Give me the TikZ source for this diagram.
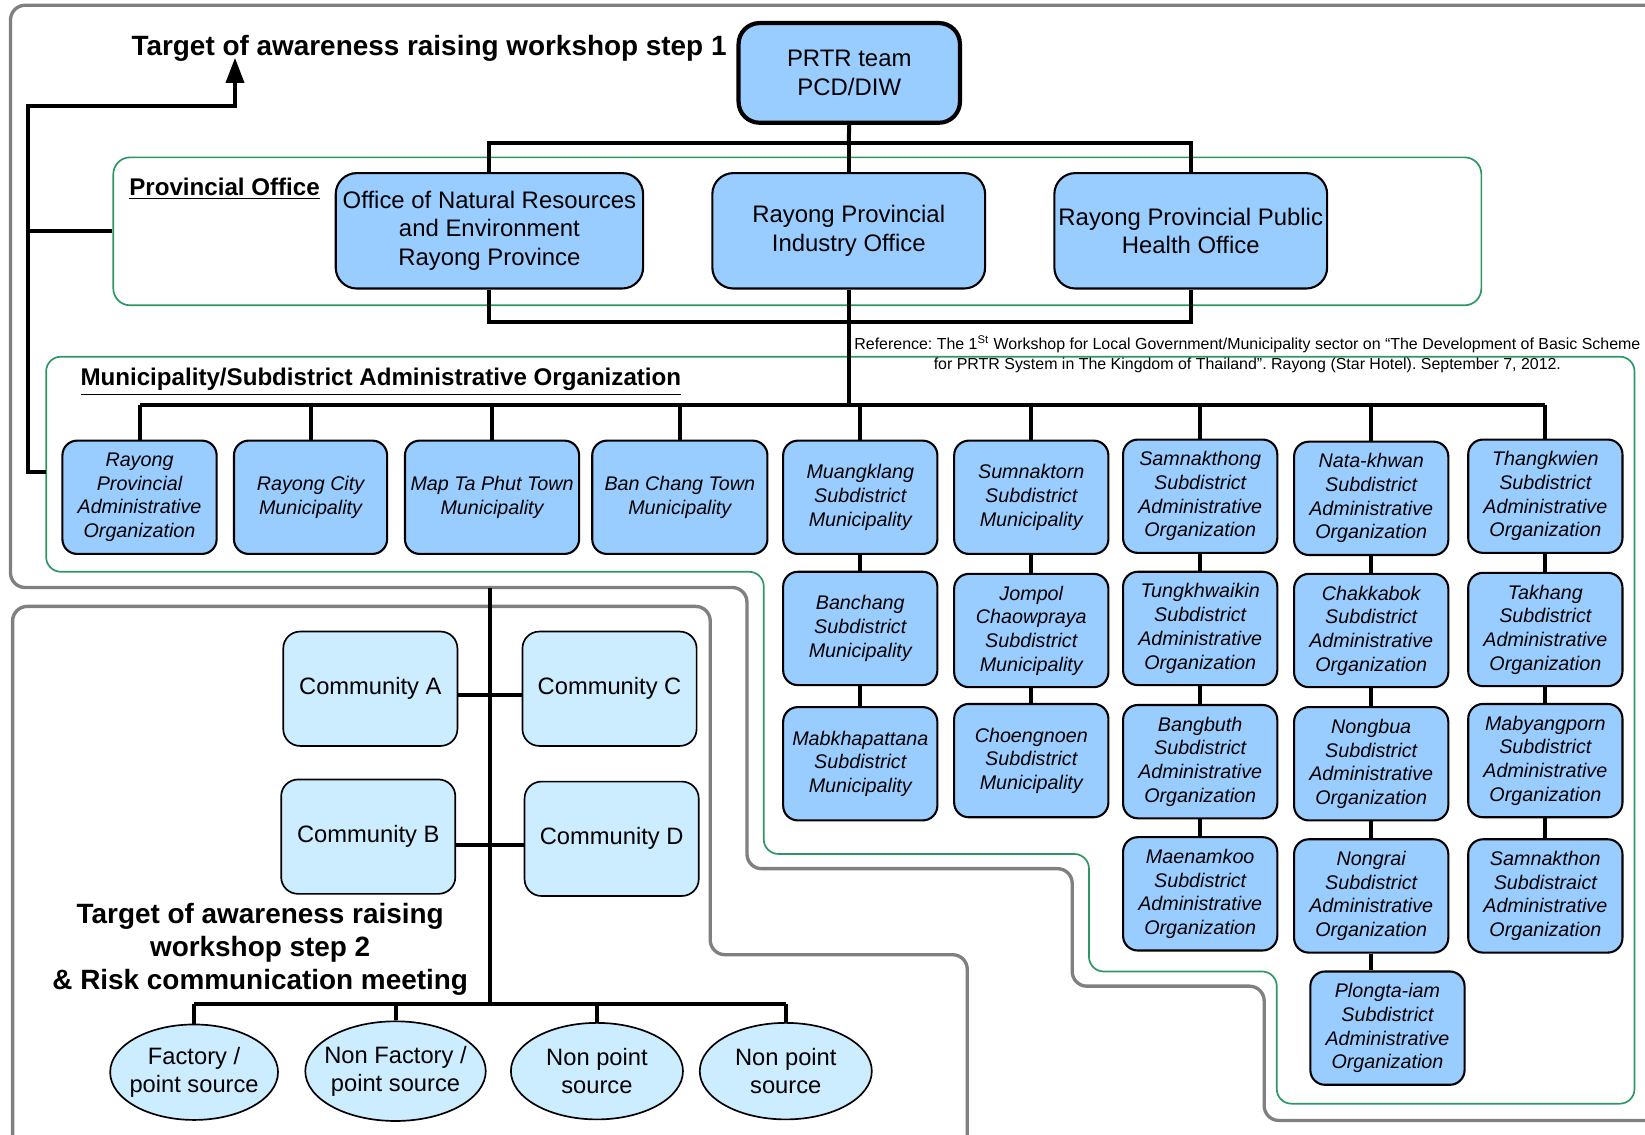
\documentclass[tikz,border=0pt]{standalone}
\usepackage{fontspec}
\setmainfont{Liberation Sans}
\usetikzlibrary{shapes.geometric,arrows.meta}
\definecolor{boxblue}{RGB}{153,204,255}
\definecolor{paleblue}{RGB}{204,236,255}
\definecolor{framegreen}{RGB}{46,150,100}
\definecolor{framegray}{RGB}{128,128,128}
\frenchspacing

\begin{document}
\begin{tikzpicture}[x=0.5pt,y=-0.5pt,
  muni/.style={draw, line width=1pt, fill=boxblue, rounded corners=7pt, minimum width=73.5pt, minimum height=54pt, inner sep=1pt, align=center, font=\fontsize{9.4}{11.3}\selectfont\itshape},
  prov/.style={draw, line width=1pt, fill=boxblue, rounded corners=10pt, minimum width=130pt, minimum height=55pt, inner sep=1pt, align=center, font=\fontsize{11.4}{13.5}\selectfont},
  comm/.style={draw, line width=0.8pt, fill=paleblue, rounded corners=8pt, minimum width=83pt, minimum height=54.5pt, font=\fontsize{11.3}{13.5}\selectfont},
  source/.style={ellipse, draw, line width=0.8pt, fill=paleblue, inner xsep=-6pt, inner ysep=0pt, align=center, font=\fontsize{11.3}{13.5}\selectfont},
  conn/.style={line width=1.9pt},
  heading/.style={font=\fontsize{13.3}{15.75}\selectfont\bfseries, align=center},
  subhead/.style={font=\fontsize{11.5}{13.5}\selectfont\bfseries}]
    \useasboundingbox (0,0) rectangle (1568,1081);
    \clip (0,0) rectangle (1568,1081);

    % Grey target frames
    \draw[framegray, line width=1.6pt, rounded corners=7pt] (1600,5) -- (10,5) -- (10,560) -- (712,560) -- (712,828) -- (1022,828) -- (1022,940) -- (1205,940) -- (1205,1068) -- (1600,1068);
    \draw[framegray, line width=1.6pt, rounded corners=7pt] (12,1110) -- (12,578) -- (677,578) -- (677,910) -- (922,910) -- (922,1110);

    % Green group frames
    \node[draw=framegreen, line width=0.8pt, rounded corners=8pt, minimum width=652pt, minimum height=70.5pt] (provframe) at (760,220.5) {};
    \draw[framegreen, line width=0.8pt, rounded corners=7pt] (44,340) -- (1558,340) -- (1558,1052) -- (1217,1052) -- (1217,926) -- (1038,926) -- (1038,814) -- (728,814) -- (728,545) -- (44,545) -- cycle;

    % Headings
    \node[heading] (step1) at (409,46) {Target of awareness raising workshop step 1};
    \node[subhead] (provtitle) at (214,180) {\underline{Provincial Office}};
    \node[subhead] (munititle) at (363,364) {\underline{Municipality/Subdistrict Administrative Organization}};
    \node[heading] (step2) at (248,905) {Target of awareness raising\\workshop step 2\\\& Risk communication meeting};
    \node[align=center, font=\fontsize{7.6}{9.5}\selectfont] (ref) at (1189,338) {Reference: The 1\textsuperscript{St} Workshop for Local Government/Municipality sector on “The Development of Basic Scheme\\for PRTR System in The Kingdom of Thailand”. Rayong (Star Hotel). September 7, 2012.};

    % PRTR team and provincial offices
    \node[draw, line width=2pt, fill=boxblue, rounded corners=10pt, minimum width=105.5pt, minimum height=47.5pt, align=center, font=\fontsize{11.4}{13.5}\selectfont] (prtr) at (809.5,69.5) {PRTR team\\PCD/DIW};
    \node[prov, minimum width=146.5pt] (onre) at (466.5,220) {Office of Natural Resources\\and Environment\\Rayong Province};
    \node[prov] (ind) at (809,220) {Rayong Provincial\\Industry Office};
    \node[prov] (health) at (1135,220) {Rayong Provincial Public\\Health Office};

    % Municipalities, first row
    \node[muni] (rpao) at (133,474) {Rayong\\Provincial\\Administrative\\Organization};
    \node[muni, minimum width=73pt] (rcm) at (296,474) {Rayong City\\Municipality};
    \node[muni, minimum width=83pt] (mtp) at (469,474) {Map Ta Phut Town\\Municipality};
    \node[muni, minimum width=83.5pt] (bct) at (648,474) {Ban Chang Town\\Municipality};
    \node[muni] (mkl) at (820,474) {Muangklang\\Subdistrict\\Municipality};
    \node[muni] (smk) at (983,474) {Sumnaktorn\\Subdistrict\\Municipality};
    \node[muni] (snt) at (1144,473) {Samnakthong\\Subdistrict\\Administrative\\Organization};
    \node[muni] (ntk) at (1307,475) {Nata-khwan\\Subdistrict\\Administrative\\Organization};
    \node[muni] (thk) at (1473,473) {Thangkwien\\Subdistrict\\Administrative\\Organization};

    % Municipalities, lower rows
    \node[muni] (bch) at (820,599) {Banchang\\Subdistrict\\Municipality};
    \node[muni] (jmp) at (983,601) {Jompol\\Chaowpraya\\Subdistrict\\Municipality};
    \node[muni] (tkk) at (1144,599) {Tungkhwaikin\\Subdistrict\\Administrative\\Organization};
    \node[muni] (ckb) at (1307,601) {Chakkabok\\Subdistrict\\Administrative\\Organization};
    \node[muni] (tkh) at (1473,600) {Takhang\\Subdistrict\\Administrative\\Organization};
    \node[muni] (mkp) at (820,728) {Mabkhapattana\\Subdistrict\\Municipality};
    \node[muni] (chn) at (983,725) {Choengnoen\\Subdistrict\\Municipality};
    \node[muni] (bgb) at (1144,726) {Bangbuth\\Subdistrict\\Administrative\\Organization};
    \node[muni] (ngb) at (1307,728) {Nongbua\\Subdistrict\\Administrative\\Organization};
    \node[muni] (myp) at (1473,725) {Mabyangporn\\Subdistrict\\Administrative\\Organization};
    \node[muni] (mnk) at (1144,852) {Maenamkoo\\Subdistrict\\Administrative\\Organization};
    \node[muni] (ngr) at (1307,854) {Nongrai\\Subdistrict\\Administrative\\Organization};
    \node[muni] (skn) at (1473,854) {Samnakthon\\Subdistraict\\Administrative\\Organization};
    \node[muni] (plg) at (1322.5,980) {Plongta-iam\\Subdistrict\\Administrative\\Organization};

    % Communities and sources
    \node[comm] (ca) at (353,656.5) {Community A};
    \node[comm] (cc) at (581,656.5) {Community C};
    \node[comm] (cb) at (351,797.5) {Community B};
    \node[comm] (cd) at (583,799.5) {Community D};
    \node[source, minimum width=80pt, minimum height=45.5pt] (e1) at (185,1022) {Factory /\\point source};
    \node[source, minimum width=86pt, minimum height=47.5pt] (e2) at (377,1021) {Non Factory /\\point source};
    \node[source, minimum width=82pt, minimum height=46pt] (e3) at (569,1021) {Non point\\source};
    \node[source, minimum width=82pt, minimum height=46pt] (e4) at (749,1021) {Non point\\source};

    % Connectors
    \coordinate (topbus) at (809,136);
    \coordinate (lowbus) at (809,307);
    \coordinate (munibus) at (809,386);
    \draw[conn] (prtr.south) -- (topbus);
    \draw[conn] (onre.north) -- (onre.north |- topbus) -- (health.north |- topbus) -- (health.north);
    \draw[conn] (ind.north) -- (ind.north |- topbus);
    \draw[conn] (onre.south) -- (onre.south |- lowbus) -- (health.south |- lowbus) -- (health.south);
    \draw[conn] (ind.south) -- (ind.south |- munibus);
    \draw[conn] (rpao.north |- munibus) -- (thk.north |- munibus);
    \foreach \n in {rpao,rcm,mtp,bct,mkl,smk,snt,ntk,thk}
        \draw[conn] (\n.north) -- (\n.north |- munibus);
    \foreach \a/\b in {mkl/bch,bch/mkp,smk/jmp,jmp/chn,snt/tkk,tkk/bgb,bgb/mnk,ntk/ckb,ckb/ngb,ngb/ngr,thk/tkh,tkh/myp,myp/skn}
        \draw[conn] (\a.south) -- (\b.north);
    \draw[conn] (ngr.south) -- (ngr.south |- plg.north);

    % Step 1 arrow
    \coordinate (munileft) at (44,450);
    \coordinate (elbow) at (27,101);
    \coordinate (arrowtip) at (224,55);
    \draw[conn, -{Triangle[width=8.5pt,length=12pt]}] (munileft) -| (elbow) -| (arrowtip);
    \draw[conn] (provframe.west) -- (provframe.west -| elbow);

    % Step 2 tree
    \coordinate (commtop) at (467,560);
    \coordinate (commbus) at (467,957);
    \draw[conn] (commtop) -- (commbus);
    \draw[conn] ([yshift=-3pt]ca.east) -- ([yshift=-3pt]ca.east -| cc.west);
    \draw[conn] ([yshift=-4pt]cb.east) -- ([yshift=-4pt]cb.east -| cd.west);
    \draw[conn] (e1.north |- commbus) -- (e4.north |- commbus);
    \foreach \n in {e1,e2,e3,e4}
        \draw[conn] (\n.north) -- (\n.north |- commbus);
\end{tikzpicture}
\end{document}
